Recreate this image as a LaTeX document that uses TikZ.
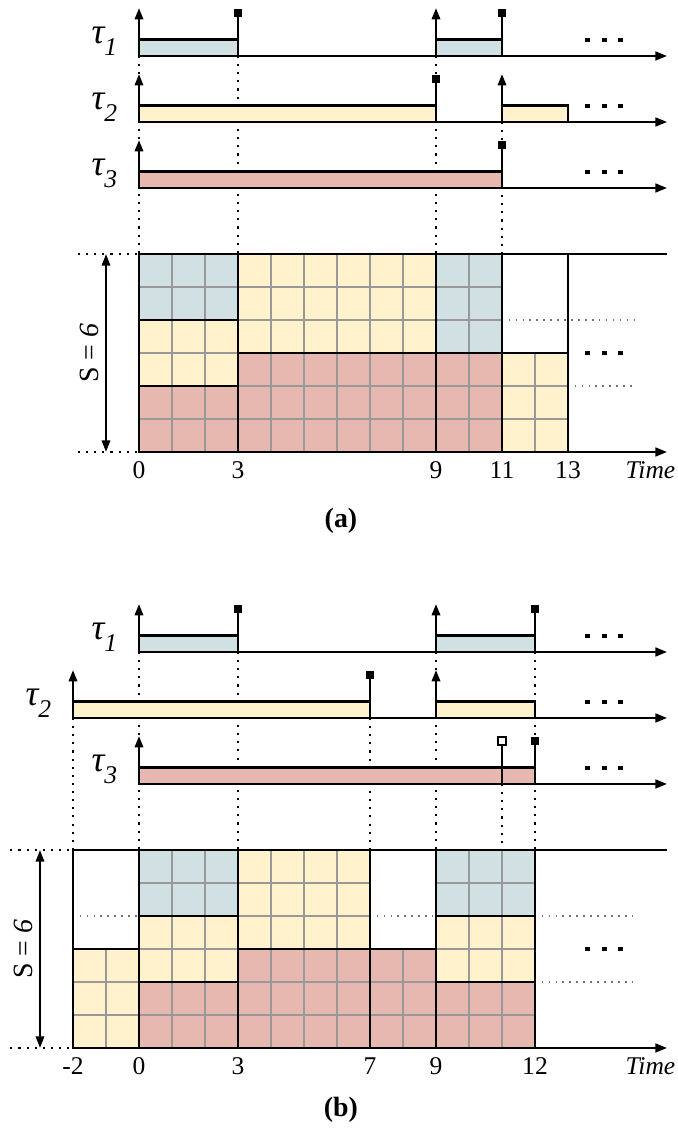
\documentclass[tikz,border=0pt]{standalone}
\usepackage{fontspec}
\setmainfont{Liberation Serif}
\usetikzlibrary{arrows.meta,positioning,calc}

\definecolor{jobA}{HTML}{D0E0E3}
\definecolor{jobB}{HTML}{FFF2CC}
\definecolor{jobC}{HTML}{E6B8AF}

% task label: tau with a lowered italic index
\newcommand{\tsk}[1]{{\fontsize{15.5}{16}\selectfont\itshape τ}\raisebox{-5pt}{\itshape #1}}
% one block of the schedule: fill, unit cells, outline
\newcommand{\blk}[5]{\fill[#1] (#2,#3) rectangle (#4,#5);
  \draw[cell] (#2,#3) grid (#4,#5);
  \draw[job] (#2,#3) rectangle (#4,#5);}
% one job bar on a task line
\newcommand{\jobbar}[4]{\draw[job,fill=#1] (#2,#4) rectangle (#3,#4+0.5);}

\begin{document}
\begin{tikzpicture}[x=0.5cm,y=0.5cm,font=\fontsize{11}{13}\selectfont,
  axis/.style={line width=0.9pt,-{Triangle[length=5pt,width=3.8pt]}},
  rel/.style={line width=0.9pt,-{Triangle[length=4.8pt,width=3.6pt]}},
  dl/.style={line width=0.9pt},
  ddl/.style={fill=black,inner sep=0pt,minimum size=3.4pt},
  odl/.style={draw=black,fill=white,line width=0.8pt,inner sep=0pt,minimum size=3.4pt},
  job/.style={draw=black,line width=0.9pt},
  cell/.style={draw=black!40,line width=0.6pt,step=0.5cm},
  guide/.style={line width=0.9pt,dash pattern=on 0.9pt off 2.6pt},
  slack/.style={black!55,line width=0.5pt,dash pattern=on 0.6pt off 2.4pt},
  more/.style={fill=black,inner sep=0pt,minimum size=2pt},
  size/.style={line width=0.9pt,{Triangle[length=5pt,width=3.6pt]}-{Triangle[length=5pt,width=3.6pt]}}]
\useasboundingbox (-4.212,-20.697) rectangle (16.333,13.697);

%%% (a)
\draw[guide] (0,12) -- (0,6) (3,12) -- (3,6) (9,12) -- (9,6) (11,10) -- (11,6);
% tau 1
\jobbar{jobA}{0}{3}{12} \jobbar{jobA}{9}{11}{12}
\draw[axis] (0,12) -- (16,12);
\draw[rel] (0,12) -- (0,13.45); \draw[rel] (9,12) -- (9,13.45);
\draw[dl] (3,12) -- (3,13.3) node[ddl] (a-d1) {};
\draw[dl] (11,12) -- (11,13.3) node[ddl] (a-d2) {};
\node (a-t1) at (-1.05,12.45) {\tsk{1}};
% tau 2
\jobbar{jobB}{0}{9}{10} \jobbar{jobB}{11}{13}{10}
\draw[axis] (0,10) -- (16,10);
\draw[rel] (0,10) -- (0,11.45); \draw[rel] (11,10) -- (11,11.45);
\draw[dl] (9,10) -- (9,11.3) node[ddl] (a-d3) {};
\node (a-t2) at (-1.05,10.45) {\tsk{2}};
% tau 3
\jobbar{jobC}{0}{11}{8}
\draw[axis] (0,8) -- (16,8);
\draw[rel] (0,8) -- (0,9.45);
\draw[dl] (11,8) -- (11,9.3) node[ddl] (a-d4) {};
\node (a-t3) at (-1.05,8.45) {\tsk{3}};
\foreach \y in {12,10,8} \foreach \x in {13.6,14.1,14.6} \node[more] at (\x,\y+0.48) {};
% schedule
\blk{jobA}{0}{4}{3}{6} \blk{jobB}{0}{2}{3}{4} \blk{jobC}{0}{0}{3}{2}
\blk{jobB}{3}{3}{9}{6} \blk{jobC}{3}{0}{9}{3}
\blk{jobA}{9}{3}{11}{6} \blk{jobC}{9}{0}{11}{3}
\blk{jobB}{11}{0}{13}{3}
\draw[job] (0,6) -- (16,6) (13,0) -- (13,6);
\draw[axis] (0,0) -- (16,0);
\draw[slack] (11.2,4) -- (15,4) (13.2,2) -- (15,2);
\foreach \x in {13.6,14.1,14.6} \node[more] at (\x,3) {};
\draw[guide] (-1.85,6) -- (0,6) (-1.85,0) -- (0,0);
\draw[size] (-1,0) -- (-1,6);
\node[rotate=90,font=\fontsize{12}{14}\selectfont] (a-s) at (-1.5,3) {S = \textit{6}};
\foreach \t in {0,3,9,11,13} \node (a-x\t) at (\t,-0.55) {\t};
\node (a-time) at (15.5,-0.55) {\textit{Time}};
\node[font=\fontsize{12}{14}\selectfont\bfseries] (a-cap) at (6.12,-2.09) {(a)};

%%% (b)
\begin{scope}[shift={(0,-18.06)}]
\draw[guide] (-2,10) -- (-2,6) (0,12) -- (0,6) (3,12) -- (3,6) (7,10) -- (7,6)
  (9,12) -- (9,6) (11,8) -- (11,6) (12,12) -- (12,6);
% tau 1
\jobbar{jobA}{0}{3}{12} \jobbar{jobA}{9}{12}{12}
\draw[axis] (0,12) -- (16,12);
\draw[rel] (0,12) -- (0,13.45); \draw[rel] (9,12) -- (9,13.45);
\draw[dl] (3,12) -- (3,13.3) node[ddl] (b-d1) {};
\draw[dl] (12,12) -- (12,13.3) node[ddl] (b-d2) {};
\node (b-t1) at (-1.05,12.45) {\tsk{1}};
% tau 2
\jobbar{jobB}{-2}{7}{10} \jobbar{jobB}{9}{12}{10}
\draw[axis] (-2,10) -- (16,10);
\draw[rel] (-2,10) -- (-2,11.45); \draw[rel] (9,10) -- (9,11.45);
\draw[dl] (7,10) -- (7,11.3) node[ddl] (b-d3) {};
\node (b-t2) at (-3.05,10.45) {\tsk{2}};
% tau 3
\jobbar{jobC}{0}{12}{8}
\draw[axis] (0,8) -- (16,8);
\draw[rel] (0,8) -- (0,9.45);
\draw[dl] (11,8) -- (11,9.3) node[odl] (b-d4) {};
\draw[dl] (12,8) -- (12,9.3) node[ddl] (b-d5) {};
\node (b-t3) at (-1.05,8.45) {\tsk{3}};
\foreach \y in {12,10,8} \foreach \x in {13.6,14.1,14.6} \node[more] at (\x,\y+0.48) {};
% schedule
\blk{jobB}{-2}{0}{0}{3}
\blk{jobA}{0}{4}{3}{6} \blk{jobB}{0}{2}{3}{4} \blk{jobC}{0}{0}{3}{2}
\blk{jobB}{3}{3}{7}{6} \blk{jobC}{3}{0}{7}{3}
\blk{jobC}{7}{0}{9}{3}
\blk{jobA}{9}{4}{12}{6} \blk{jobB}{9}{2}{12}{4} \blk{jobC}{9}{0}{12}{2}
\draw[job] (-2,6) -- (16,6) (-2,3) -- (-2,6);
\draw[axis] (-2,0) -- (16,0);
\draw[slack] (-1.8,4) -- (-0.05,4) (7.2,4) -- (8.9,4) (12.2,4) -- (15,4) (12.2,2) -- (15,2);
\foreach \x in {13.6,14.1,14.6} \node[more] at (\x,3) {};
\draw[guide] (-3.9,6) -- (-2,6) (-3.9,0) -- (-2,0);
\draw[size] (-3,0) -- (-3,6);
\node[rotate=90,font=\fontsize{12}{14}\selectfont] (b-s) at (-3.5,3) {S = \textit{6}};
\foreach \t in {-2,0,3,7,9,12} \node (b-x\t) at (\t,-0.55) {\t};
\node (b-time) at (15.5,-0.55) {\textit{Time}};
\node[font=\fontsize{12}{14}\selectfont\bfseries] (b-cap) at (6.12,-1.88) {(b)};
\end{scope}
\end{tikzpicture}
\end{document}
